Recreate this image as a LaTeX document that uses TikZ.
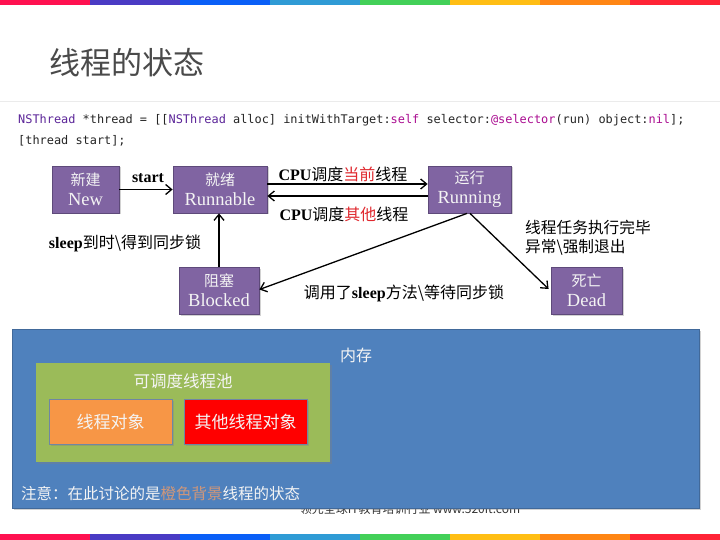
\documentclass[tikz,border=0pt]{standalone}
\usepackage{fontspec}
\setmainfont{Liberation Serif}
\newfontfamily\cjk{Noto Sans CJK SC}
\newfontfamily\codefont{DejaVu Sans Mono}
\usetikzlibrary{arrows.meta,shadows,calc}

\definecolor{barA}{HTML}{FF1150}
\definecolor{barB}{HTML}{4A3BC4}
\definecolor{barC}{HTML}{0A5FF7}
\definecolor{barD}{HTML}{2F9BD5}
\definecolor{barE}{HTML}{43D058}
\definecolor{barF}{HTML}{FFBE14}
\definecolor{barG}{HTML}{FF8614}
\definecolor{barH}{HTML}{FF2436}
\definecolor{statefill}{HTML}{8064A2}
\definecolor{stateline}{HTML}{5E4A7A}
\definecolor{memblue}{HTML}{4F81BD}
\definecolor{memline}{HTML}{41699A}
\definecolor{poolgreen}{HTML}{9BBB59}
\definecolor{objorange}{HTML}{F79646}
\definecolor{objred}{HTML}{FF0000}
\definecolor{objline}{HTML}{6F86A3}
\definecolor{hilite}{HTML}{E0282E}
\definecolor{notehl}{HTML}{D0977A}
\definecolor{kwcol}{HTML}{AA0D91}
\definecolor{clscol}{HTML}{5C2699}
\definecolor{plain}{HTML}{262626}
\definecolor{titlegray}{HTML}{4A4A4A}
\definecolor{softwhite}{HTML}{F4F4F4}

\tikzset{
  statebox/.style={draw=stateline, line width=0.8pt, fill=statefill,
    minimum height=47pt, align=center, inner sep=0pt, text=softwhite,
    font=\fontsize{18.5}{20}\selectfont,
    drop shadow={opacity=0.35, shadow xshift=1.5pt, shadow yshift=-1.5pt}},
  flow/.style={-{Straight Barb[length=6pt,width=10pt]}, line width=1.3pt, black},
  lbl/.style={font=\fontsize{16}{18}\selectfont, inner sep=0pt, text=black},
  panel/.style={drop shadow={opacity=0.35, shadow xshift=1.5pt, shadow yshift=-1.5pt}},
  objbox/.style={draw=objline, line width=0.7pt, minimum width=123pt,
    minimum height=45pt, inner sep=0pt, text=softwhite,
    font=\cjk\fontsize{17}{20}\selectfont, panel},
}

\begin{document}
\begin{tikzpicture}[x=1pt,y=-1pt]
\useasboundingbox (0,0) rectangle (720,540);
\fill[white] (0,0) rectangle (720,540);

% rainbow bars, top and bottom
\foreach \c [count=\i from 0] in {barA,barB,barC,barD,barE,barF,barG,barH}{
  \fill[\c] (\i*90,0) rectangle ({(\i+1)*90},5);
  \fill[\c] (\i*90,534) rectangle ({(\i+1)*90},540);
}

% title
\node[anchor=west, inner sep=0pt, text=titlegray,
      font=\cjk\fontsize{31}{34}\selectfont] (title) at (49,63) {线程的状态};
\draw[black!8, line width=1pt] (0,102) -- (720,102);

% code
\node[anchor=west, inner sep=0pt, text=plain,
      font=\codefont\fontsize{11.9}{14}\selectfont] (code1) at (18,120)
  {\textcolor{clscol}{NSThread} *thread = [[\textcolor{clscol}{NSThread} alloc] initWithTarget:\textcolor{kwcol}{self} selector:\textcolor{kwcol}{@selector}(run) object:\textcolor{kwcol}{nil}];};
\node[anchor=west, inner sep=0pt, text=plain,
      font=\codefont\fontsize{11.9}{14}\selectfont] (code2) at (18,141)
  {[thread start];};

% thread states
\node[statebox, minimum width=67pt] (new) at (85.5,189.5) {{\cjk\fontsize{15}{18}\selectfont 新建}\\New};
\node[statebox, minimum width=94pt] (runnable) at (220,189.5) {{\cjk\fontsize{15}{18}\selectfont 就绪}\\Runnable};
\node[statebox, minimum width=83pt] (running) at (469.5,189.5) {{\cjk\fontsize{15}{18}\selectfont 运行}\\Running};
\node[statebox, minimum width=80pt] (blocked) at (219,290.5) {{\cjk\fontsize{15}{18}\selectfont 阻塞}\\Blocked};
\node[statebox, minimum width=71pt] (dead) at (586.5,290.5) {{\cjk\fontsize{15}{18}\selectfont 死亡}\\Dead};

% transitions
\draw[flow] (new.east) -- (runnable.west);
\draw[flow] ([yshift=5.5pt]runnable.east) -- ([yshift=5.5pt]running.west);
\draw[flow] ([yshift=-6.5pt]running.west) -- ([yshift=-6.5pt]runnable.east);
\draw[flow] (blocked.north) -- (blocked.north |- runnable.south);
\draw[flow] ([xshift=-2.5pt]running.south) -- ([yshift=1pt]blocked.east);
\draw[flow] ([xshift=0.5pt]running.south) -- ([xshift=-2pt,yshift=1.5pt]dead.west);

% transition labels
\node[lbl] (lstart) at (148,178) {\textbf{start}};
\node[lbl] (lcur) at (343,174) {\textbf{CPU}{\cjk 调度\textcolor{hilite}{当前}线程}};
\node[lbl] (loth) at (344,214) {\textbf{CPU}{\cjk 调度\textcolor{hilite}{其他}线程}};
\node[lbl] (lwake) at (125,243) {\textbf{sleep}{\cjk 到时\textbackslash 得到同步锁}};
\node[lbl] (lsleep) at (404,293) {{\cjk 调用了}\textbf{sleep}{\cjk 方法\textbackslash 等待同步锁}};
\node[lbl, anchor=north west, align=left, font=\cjk\fontsize{15.7}{18.5}\selectfont]
  (ldead) at (525,220) {线程任务执行完毕\\异常\textbackslash 强制退出};

% footer text, partly hidden by the memory panel
\node[inner sep=0pt, text=black!80, font=\cjk\fontsize{12}{14}\selectfont]
  (footer) at (410,508.5) {领先全球IT教育培训行业 www.520it.com};

% memory panel
\path[panel, fill=memblue, draw=memline, line width=0.6pt] (12,329) rectangle (699,508);
\node[inner sep=0pt, text=softwhite, font=\cjk\fontsize{16}{18}\selectfont] (mem) at (356,355) {内存};
\path[panel, fill=poolgreen] (36,363) rectangle (330,462);
\node[inner sep=0pt, text=softwhite, font=\cjk\fontsize{16.5}{18}\selectfont] (pool) at (183,381) {可调度线程池};
\node[objbox, fill=objorange] (obj) at (110.5,421.5) {线程对象};
\node[objbox, fill=objred] (other) at (245.5,421.5) {其他线程对象};
\node[anchor=west, inner sep=0pt, text=softwhite, font=\cjk\fontsize{15.5}{18}\selectfont]
  (note) at (21,494) {注意：在此讨论的是\textcolor{notehl}{橙色背景}线程的状态};
\end{tikzpicture}
\end{document}
